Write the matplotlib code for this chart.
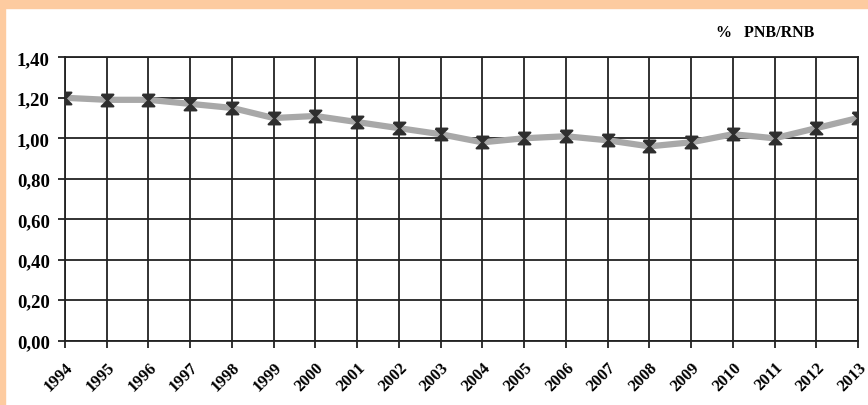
import numpy as np
import matplotlib
matplotlib.use("Agg")
import matplotlib.pyplot as plt
from matplotlib.patches import Rectangle

# data
years = [1994, 1995, 1996, 1997, 1998, 1999, 2000, 2001, 2002, 2003,
         2004, 2005, 2006, 2007, 2008, 2009, 2010, 2011, 2012, 2013]
pnb = [1.20, 1.19, 1.19, 1.17, 1.15, 1.10, 1.11, 1.08, 1.05, 1.02,
       0.98, 1.00, 1.01, 0.99, 0.96, 0.98, 1.02, 1.00, 1.05, 1.10]
y_ticks = [0.0, 0.2, 0.4, 0.6, 0.8, 1.0, 1.2, 1.4]
y_labels = ["0,00", "0,20", "0,40", "0,60", "0,80", "1,00", "1,20", "1,40"]

peach = "#FDCBA0"
serif = ["Liberation Serif", "DejaVu Serif"]

fig = plt.figure(figsize=(8.68, 4.06), dpi=100)
fig.patch.set_facecolor("white")
# peach frame along top and left edges
fig.patches.append(Rectangle((0, 1 - 9 / 406), 1, 9 / 406, transform=fig.transFigure,
                             color=peach, zorder=0))
fig.patches.append(Rectangle((0, 0), 5 / 868, 1, transform=fig.transFigure,
                             color=peach, zorder=0))

ax = fig.add_axes([65 / 868, (406 - 341.7) / 406, (858 - 65) / 868, (341.7 - 58.3) / 406])
x = np.arange(len(years))

hourglass = [(-1, 1), (1, 1), (-1, -1), (1, -1), (-1, 1)]
ax.plot(x, pnb, color="#A8A8A8", linewidth=4.5, zorder=3, solid_capstyle="round")
ax.plot(x, pnb, linestyle="none", marker=hourglass, markersize=8.5,
        markerfacecolor="#2E2E2E", markeredgecolor="#2E2E2E", markeredgewidth=1.5, zorder=4)

ax.set_xlim(0, len(years) - 1)
ax.set_ylim(0, 1.4)
ax.set_xticks(x)
ax.set_xticklabels([str(yr) for yr in years], rotation=45, ha="right",
                   rotation_mode="anchor", fontfamily=serif, fontweight="bold", fontsize=12)
ax.set_yticks(y_ticks)
ax.set_yticklabels(y_labels, fontfamily=serif, fontweight="bold", fontsize=13.5)
ax.grid(True, color="#222222", linewidth=1.3)
ax.tick_params(axis="both", length=5, width=1.3, color="#222222")
ax.tick_params(axis="x", pad=8)
ax.tick_params(axis="y", pad=6)
for s in ax.spines.values():
    s.set_color("#222222")
    s.set_linewidth(1.3)

fig.text(716 / 868, 1 - 33 / 406, "%   PNB/RNB", fontfamily=serif, fontweight="bold",
         fontsize=11.5, va="center", ha="left")

fig.savefig("out.png", dpi=100)
